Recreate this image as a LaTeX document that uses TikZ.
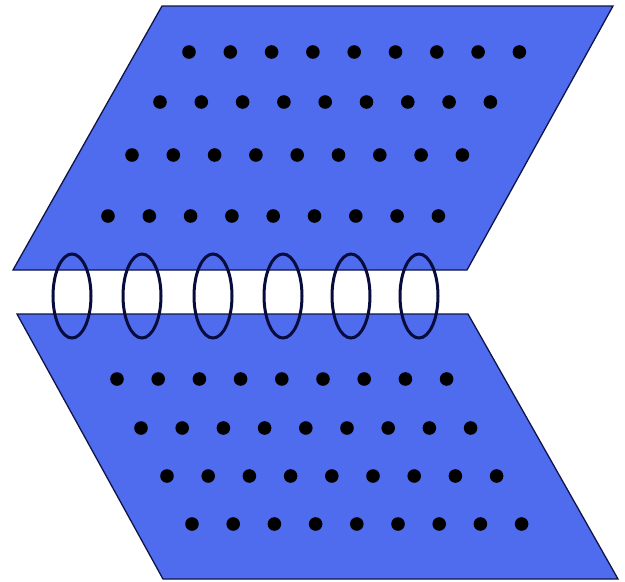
\documentclass[tikz,border=0pt]{standalone}
\definecolor{plate}{RGB}{80,108,238}
\definecolor{edge}{RGB}{15,20,70}
\definecolor{ring}{RGB}{8,12,60}
\tikzset{
  platestyle/.style={fill=plate,draw=edge,line width=1.3pt,line join=miter},
  dotstyle/.style={fill=black},
  ringstyle/.style={draw=ring,line width=3pt}
}
\begin{document}
\begin{tikzpicture}[x=1pt,y=-1pt]
\useasboundingbox (0,0) rectangle (625,582);
% upper plate
\draw[platestyle] (162,6) -- (613,6) -- (467,270) -- (13,270) -- cycle;
% lower plate
\draw[platestyle] (17,314) -- (468,314) -- (618,579) -- (163,579) -- cycle;
% dots upper
\foreach \y/\x in {52/189, 102/160, 155/132, 216/108}{
  \foreach \i in {0,...,8}{
    \fill[dotstyle] (\x+41.3*\i,\y) circle (6.8);
  }
}
% dots lower
\foreach \y/\x in {379/117, 428/141, 476/167, 524/192}{
  \foreach \i in {0,...,8}{
    \fill[dotstyle] (\x+41.2*\i,\y) circle (6.8);
  }
}
% rings
\foreach \x in {72,142,213,283,351,419}{
  \draw[ringstyle] (\x,296) ellipse (19 and 42);
}
\end{tikzpicture}
\end{document}
